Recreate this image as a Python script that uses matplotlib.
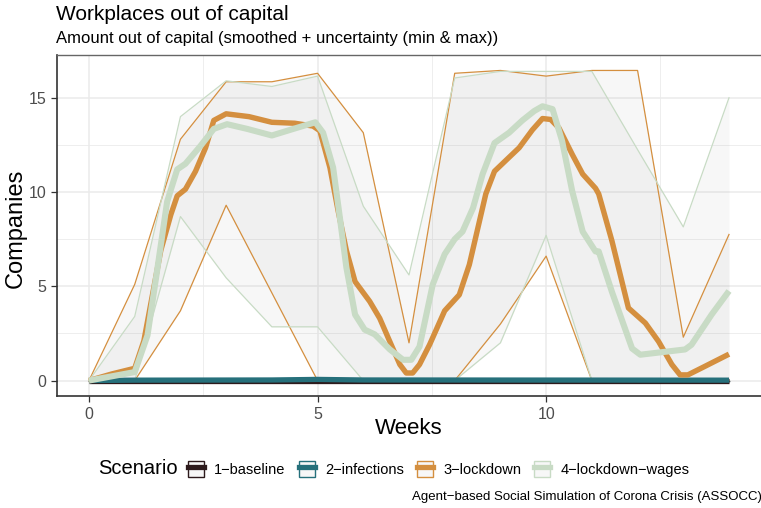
import matplotlib
matplotlib.use("Agg")
import matplotlib.pyplot as plt
from matplotlib.patches import Patch
from matplotlib.lines import Line2D
from matplotlib.legend_handler import HandlerTuple

plt.rcParams['font.family'] = ['Liberation Sans', 'DejaVu Sans']

# weekly min / max per scenario
weeks = list(range(15))

baseline_min = [0] * 15
baseline_max = [0] * 15
infections_min = [0] * 15
infections_max = [0, 0, 0, 0, 0.04, 0.14, 0.04, 0, 0, 0, 0, 0, 0, 0, 0]
lockdown_min = [0, 0, 3.7, 9.3, 4.65, 0, 0, 0, 0, 3.0, 6.6, 0, 0, 0, 0]
lockdown_max = [0, 5.1, 12.8, 15.85, 15.85, 16.3, 13.15, 2.0, 16.3, 16.45, 16.15, 16.45, 16.45, 2.3, 7.75]
wages_min = [0, 0, 8.7, 5.45, 2.85, 2.85, 0, 0, 0, 2.0, 7.7, 0, 0, 0, 0]
wages_max = [0, 3.4, 14.0, 15.9, 15.6, 16.15, 9.25, 5.6, 16.05, 16.4, 16.4, 16.4, 12.25, 8.15, 15.0]

# smoothed averages
baseline_x = [0, 14]
baseline_y = [0, 0]
infections_x = [0, 1, 4, 5, 6, 14]
infections_y = [0, 0.02, 0.03, 0.06, 0.03, 0.02]

lockdown_x = [0, 0.5, 1.0, 1.2, 1.57, 1.79, 1.93, 2.11, 2.33, 2.55, 2.73, 3.0, 3.5, 4.0,
              4.5, 4.9, 5.05, 5.27, 5.45, 5.63, 5.82, 6.14, 6.36, 6.58, 6.8, 6.94, 7.08,
              7.23, 7.45, 7.78, 8.1, 8.32, 8.68, 8.87, 9.15, 9.41, 9.7, 9.92, 10.1, 10.28,
              10.57, 10.8, 11.08, 11.15, 11.44, 11.8, 12.17, 12.46, 12.75, 12.93, 13.1,
              13.47, 14.0]
lockdown_y = [0, 0.35, 0.65, 2.1, 6.9, 8.8, 9.8, 10.15, 11.1, 12.35, 13.8, 14.15, 14.0, 13.7,
              13.65, 13.5, 13.25, 11.3, 9.0, 6.9, 5.25, 4.2, 3.3, 2.07, 0.85, 0.4, 0.4,
              0.85, 1.9, 3.7, 4.55, 6.15, 9.9, 11.1, 11.75, 12.35, 13.3, 13.9, 13.85, 13.4,
              12.0, 10.95, 10.2, 9.9, 7.4, 3.85, 3.05, 2.07, 0.85, 0.3, 0.3,
              0.75, 1.4]

wages_x = [0, 1.0, 1.28, 1.5, 1.71, 1.93, 2.11, 2.44, 2.73, 3.02, 3.46, 4.0, 4.47, 4.95,
           5.12, 5.34, 5.49, 5.63, 5.82, 6.03, 6.25, 6.58, 6.87, 7.05, 7.23, 7.52, 7.78,
           8.0, 8.17, 8.4, 8.61, 8.87, 9.19, 9.48, 9.74, 9.92, 10.14, 10.35, 10.57, 10.8,
           11.08, 11.15, 11.44, 11.88, 12.06, 13.04, 13.18, 13.62, 14.0]
wages_y = [0, 0.45, 2.4, 6.0, 9.5, 11.2, 11.5, 12.45, 13.35, 13.6, 13.35, 13.0, 13.35, 13.7,
           13.15, 11.3, 8.6, 6.0, 3.5, 2.7, 2.45, 1.65, 1.1, 1.1, 1.8, 5.1, 6.7,
           7.5, 7.9, 9.15, 10.95, 12.6, 13.15, 13.8, 14.3, 14.55, 14.4, 12.7, 10.05, 7.9,
           6.85, 6.85, 4.7, 1.7, 1.37, 1.65, 1.9, 3.5, 4.75]

labels = ['1\u2212baseline', '2\u2212infections', '3\u2212lockdown', '4\u2212lockdown\u2212wages']
colors = ['#2d1a1c', '#26707b', '#d48f3f', '#c8dbc5']
widths = [3.8, 3.8, 3.9, 4.4]

fig = plt.figure(figsize=(7.61, 5.08), dpi=100)
ax = fig.add_axes([57 / 761, 1 - 396 / 508, 1 - 57 / 761, (396 - 55) / 508])

mins = [baseline_min, infections_min, lockdown_min, wages_min]
maxs = [baseline_max, infections_max, lockdown_max, wages_max]
smooth = [(baseline_x, baseline_y), (infections_x, infections_y),
          (lockdown_x, lockdown_y), (wages_x, wages_y)]

# ribbons
for lo, hi in zip(mins, maxs):
    ax.fill_between(weeks, lo, hi, color='#b3b3b3', alpha=0.1, lw=0, zorder=2)

# min / max outlines
for lo, hi, c in zip(mins, maxs, colors):
    ax.plot(weeks, lo, color=c, lw=0.9, zorder=3)
    ax.plot(weeks, hi, color=c, lw=0.9, zorder=3)

# smoothed lines
for (sx, sy), c, w in zip(smooth, colors, widths):
    ax.plot(sx, sy, color=c, lw=w, solid_joinstyle='round', solid_capstyle='butt', zorder=4)

ax.set_xlim(-0.7, 14.7)
ax.set_ylim(-0.82, 17.27)
ax.set_xticks([0, 5, 10])
ax.set_yticks([0, 5, 10, 15])
ax.set_xticks([2.5, 7.5, 12.5], minor=True)
ax.set_yticks([2.5, 7.5, 12.5], minor=True)
ax.grid(which='major', color='#ebebeb', lw=1.1, zorder=0)
ax.grid(which='minor', color='#ebebeb', lw=0.6, zorder=0)
ax.set_axisbelow(True)
ax.tick_params(which='major', labelsize=11.5, labelcolor='#4d4d4d', color='#333333',
               length=4, width=0.9)
ax.tick_params(axis='y', which='major', pad=3.5)
ax.tick_params(axis='x', which='major', pad=4)
ax.tick_params(which='minor', length=0)

for side in ['left', 'bottom']:
    ax.spines[side].set_color('#333333')
    ax.spines[side].set_linewidth(1.2)
ax.spines['top'].set_color('#666666')
ax.spines['top'].set_linewidth(1.0)
ax.spines['right'].set_visible(False)

# axis titles
fig.text(409 / 761, 1 - 428 / 508, 'Weeks', fontsize=16, ha='center', va='center')
fig.text(16 / 761, 1 - 228 / 508, 'Companies', fontsize=17, ha='center', va='center',
         rotation=90)

fig.text(56 / 761, 1 - 15 / 508, 'Workplaces out of capital', fontsize=15, va='center', ha='left')
fig.text(56 / 761, 1 - 38 / 508, 'Amount out of capital (smoothed + uncertainty (min & max))',
         fontsize=12, va='center', ha='left')

# legend
fig.text(98 / 761, 1 - 469 / 508, 'Scenario', fontsize=14.5, va='center', ha='left')
handles = []
for c in colors:
    box = Patch(facecolor='#f7f7f7', edgecolor=c, lw=1.0)
    line = Line2D([], [], color=c, lw=3.8)
    handles.append((box, line))
fig.legend(handles, labels, loc='center left', bbox_to_anchor=(188 / 761, 1 - 469 / 508),
           ncol=4, frameon=False, fontsize=10.5, handlelength=1.1, handleheight=1.4,
           handletextpad=0.7, columnspacing=0.9, borderpad=0, borderaxespad=0,
           handler_map={tuple: HandlerTuple(ndivide=1, pad=0)})

fig.text(762 / 761, 1 - 497 / 508, 'Agent\u2212based Social Simulation of Corona Crisis (ASSOCC)',
         fontsize=9.5, va='center', ha='right')

fig.savefig('out.png', dpi=100)
